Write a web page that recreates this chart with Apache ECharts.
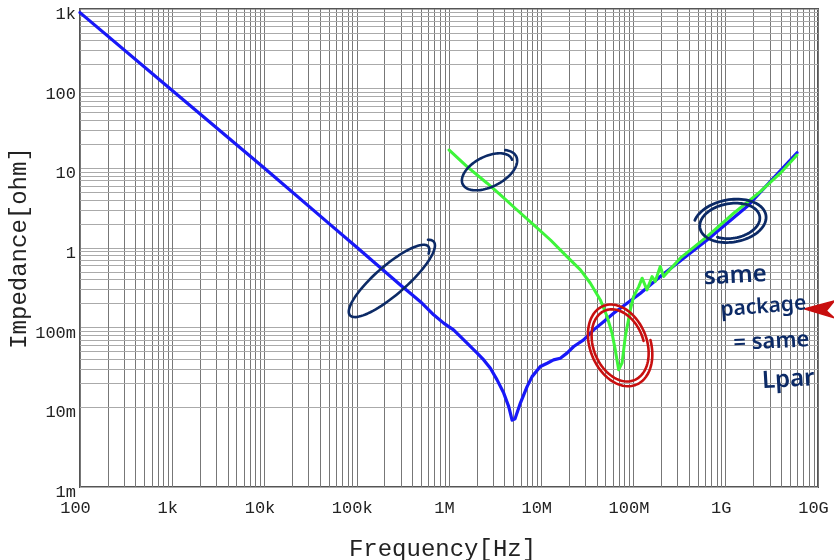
<!DOCTYPE html>
<html>
<head>
<meta charset="utf-8">
<script src="https://cdn.jsdelivr.net/npm/echarts@6/dist/echarts.min.js"></script>
<style>
  html, body { margin: 0; padding: 0; background: #ffffff; }
  #chart { width: 834px; height: 560px; }
</style>
</head>
<body>
<div id="chart"></div>
<script>
// Decade tick labels
const xTickLabels = ['100', '1k', '10k', '100k', '1M', '10M', '100M', '1G', '10G'];
const yTickLabels = ['1m', '10m', '100m', '1', '10', '100', '1k'];

// Impedance of part A [Hz, ohm]
const partA = [
  [100, 900], [1000, 95], [10000, 10], [52000, 1.95], [100000, 1.02],
  [297000, 0.344], [381000, 0.271], [490000, 0.212], [682000, 0.145], [875000, 0.114],
  [1.12e6, 0.094], [1.57e6, 0.064], [2.02e6, 0.048], [2.38e6, 0.0394], [2.81e6, 0.031],
  [3.32e6, 0.0221], [3.92e6, 0.0151], [4.44e6, 0.0102], [4.83e6, 0.0069], [5.2e6, 0.0072],
  [5.94e6, 0.0113], [7.02e6, 0.0182], [7.95e6, 0.0243], [9.77e6, 0.0325], [11.6e6, 0.0358],
  [13.6e6, 0.0394], [16.1e6, 0.0414], [19e6, 0.0479], [22.5e6, 0.058], [28.8e6, 0.0703],
  [37e6, 0.0938], [47.4e6, 0.119], [60.9e6, 0.152], [85.1e6, 0.203], [119e6, 0.271],
  [195e6, 0.438], [627e6, 1.26], [1.7e9, 3.31], [5.92e9, 15.7]
];

// Impedance of part B [Hz, ohm]
const partB = [
  [1e6, 17.0], [1.57e6, 10.5], [2.59e6, 6.5], [3.61e6, 4.64], [5.47e6, 3.0],
  [8.28e6, 1.95], [12.6e6, 1.26], [19e6, 0.78], [26.6e6, 0.531], [34.1e6, 0.361],
  [43.7e6, 0.223], [51.7e6, 0.138], [58.5e6, 0.0853], [63.5e6, 0.0526], [69e6, 0.0296],
  [75.2e6, 0.0361], [81.5e6, 0.0773], [92.4e6, 0.167], [100e6, 0.245], [114e6, 0.328],
  [124e6, 0.418], [140e6, 0.298], [159e6, 0.438], [172e6, 0.379], [195e6, 0.585],
  [212e6, 0.438], [321e6, 0.745], [627e6, 1.39], [1.22e9, 2.73], [2.37e9, 5.1],
  [3.9e9, 8.7], [5.92e9, 14.7]
];

// Minor log grid positions (2..9 of every decade)
const xDecades = [2, 3, 4, 5, 6, 7, 8, 9];
const yDecades = [-3, -2, -1, 0, 1, 2];
const minorSteps = [2, 3, 4, 5, 6, 7, 8, 9];

const minorX = [];
xDecades.forEach(e => minorSteps.forEach(k => minorX.push({ xAxis: k * Math.pow(10, e) })));
const minorY = [];
yDecades.forEach(e => minorSteps.forEach(k => minorY.push({ yAxis: k * Math.pow(10, e) })));

const FONT = 'Liberation Mono';
const INK = '#222222';
const VGRID = '#777777';
const HGRID = '#aaaaaa';

const chart = echarts.init(document.getElementById('chart'));

function decadeIndex(v) { return Math.round(Math.log10(v)); }

chart.setOption({
  animation: false,
  backgroundColor: '#ffffff',
  grid: {
    left: 80, right: 16, top: 9, bottom: 73,
    outerBoundsMode: 'none',
    show: true, borderColor: '#555555', borderWidth: 2, backgroundColor: 'transparent',
    containLabel: false
  },
  xAxis: {
    type: 'log', logBase: 10, min: 100, max: 1e10, splitNumber: 8,
    name: 'Frequency[Hz]', nameLocation: 'middle', nameGap: 51, nameMoveOverlap: false,
    nameTextStyle: { fontFamily: FONT, fontSize: 24, color: INK, padding: [0, 13, 0, 0] },
    axisLine: { show: false },
    axisTick: { show: false },
    axisLabel: {
      margin: 13,
      formatter: v => '{t|' + (xTickLabels[decadeIndex(v) - 2] || '') + '}',
      rich: { t: { fontFamily: FONT, fontSize: 17, color: INK, padding: [0, 9, 0, 0] } }
    },
    splitLine: { show: true, lineStyle: { color: VGRID, width: 1 } },
    minorTick: { show: false }, minorSplitLine: { show: false }
  },
  yAxis: {
    type: 'log', logBase: 10, min: 1e-3, max: 1e3, splitNumber: 6,
    name: 'Impedance[ohm]', nameLocation: 'middle', nameGap: 48, nameRotate: 90, nameMoveOverlap: false,
    nameTextStyle: { fontFamily: FONT, fontSize: 24, color: INK },
    axisLine: { show: false },
    axisTick: { show: false },
    axisLabel: {
      margin: 4,
      formatter: v => '{t|' + (yTickLabels[decadeIndex(v) + 3] || '') + '}',
      rich: { t: { fontFamily: FONT, fontSize: 17, color: INK, padding: [11, 0, 0, 0] } }
    },
    splitLine: { show: true, lineStyle: { color: HGRID, width: 1 } }
  },
  series: [
    {
      name: 'minor-x', type: 'line', data: [], silent: true, z: 1,
      markLine: {
        z: 1, silent: true, symbol: ['none', 'none'], label: { show: false },
        lineStyle: { color: VGRID, width: 1, type: 'solid' },
        emphasis: { disabled: true },
        data: minorX
      }
    },
    {
      name: 'minor-y', type: 'line', data: [], silent: true, z: 1,
      markLine: {
        z: 1, silent: true, symbol: ['none', 'none'], label: { show: false },
        lineStyle: { color: HGRID, width: 1, type: 'solid' },
        emphasis: { disabled: true },
        data: minorY
      }
    },
    {
      name: 'A', type: 'line', data: partA, symbol: 'none', z: 3,
      lineStyle: { color: '#1818f8', width: 3.2, join: 'round', cap: 'round' }
    },
    {
      name: 'B', type: 'line', data: partB, symbol: 'none', z: 4,
      lineStyle: { color: '#3ef53a', width: 3, join: 'round', cap: 'round' }
    }
  ]
});

// Hand-drawn markup placed at chart coordinates
function at(f, z) { return chart.convertToPixel({ gridIndex: 0 }, [f, z]); }

function handLoop(c, a, b, rotDeg, startDeg, turns, grow) {
  const pts = [];
  const n = Math.ceil(90 * turns);
  const r = rotDeg * Math.PI / 180;
  for (let i = 0; i <= n; i++) {
    const t = startDeg * Math.PI / 180 + (i / n) * turns * 2 * Math.PI;
    const s = 1 + grow * (i / n);
    const ex = a * s * Math.cos(t), ey = b * s * Math.sin(t);
    pts.push([c[0] + ex * Math.cos(r) - ey * Math.sin(r), c[1] + ex * Math.sin(r) + ey * Math.cos(r)]);
  }
  return pts;
}

const NAVY = '#0c2a66';
const RED = '#c80f0f';
const pen = (color, w) => ({ stroke: color, lineWidth: w, fill: null, lineCap: 'round', lineJoin: 'round' });

const c1 = at(232e3, 0.40);
const c2 = at(2.67e6, 9.27);
const c3 = at(1.15e9, 2.13);
const c4 = at(70e6, 0.062);
const noteAt = at(1.27e9, 0.447);
const arrowTip = at(7.1e9, 0.172);

const graphics = [
  { type: 'polyline', z: 50, shape: { points: handLoop(c1, 58, 16, -41, -20, 1.12, -0.14) }, style: pen(NAVY, 2.6) },
  { type: 'polyline', z: 50, shape: { points: handLoop(c2, 32, 17, -27, -40, 1.12, -0.18) }, style: pen(NAVY, 2.6) },
  { type: 'polyline', z: 50, shape: { points: handLoop(c3, 38, 23, -10, 200, 1.8, -0.3) }, style: pen(NAVY, 2.8) },
  { type: 'polyline', z: 50, shape: { points: handLoop(c4, 45, 31, 68, -80, 2.0, -0.22) }, style: pen(RED, 2.6) },
  {
    type: 'polygon', z: 50,
    shape: { points: [arrowTip, [arrowTip[0] + 30, arrowTip[1] - 8], [arrowTip[0] + 22, arrowTip[1] + 2], [arrowTip[0] + 30, arrowTip[1] + 9]] },
    style: { fill: RED, stroke: RED, lineWidth: 1.5, lineJoin: 'round' }
  }
];

const noteStyle = { fill: NAVY, fontFamily: 'Noto Sans', fontWeight: 600, align: 'center', verticalAlign: 'middle' };
[
  { text: 'same', dx: 0, dy: 0, size: 24, rot: 0.05 },
  { text: 'package', dx: 28, dy: 31, size: 21, rot: 0.08 },
  { text: '= same', dx: 36, dy: 66, size: 22, rot: 0.05 },
  { text: 'Lpar', dx: 53, dy: 104, size: 24, rot: 0.06 }
].forEach(n => graphics.push({
  type: 'text', z: 50, x: noteAt[0] + n.dx, y: noteAt[1] + n.dy, rotation: n.rot,
  style: Object.assign({ text: n.text, fontSize: n.size }, noteStyle)
}));

chart.setOption({ graphic: graphics });
</script>
</body>
</html>
